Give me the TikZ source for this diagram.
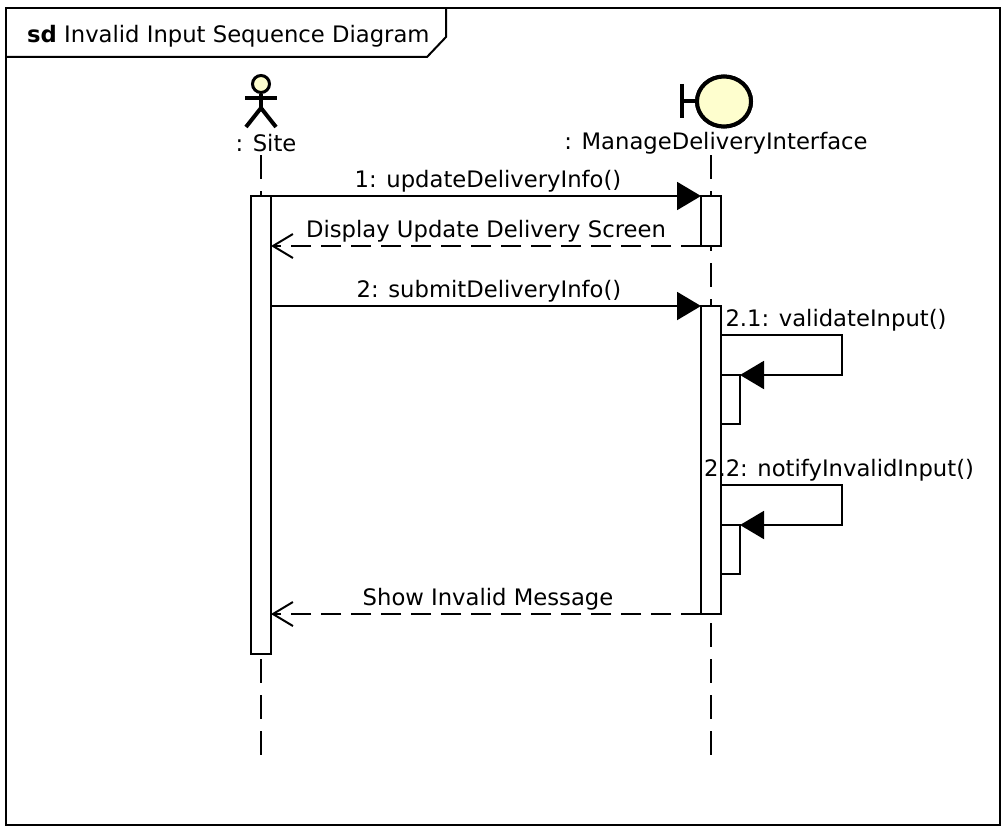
\documentclass[tikz,border=0pt]{standalone}
\usepackage{fontspec}
\setmainfont{DejaVu Sans}
\usetikzlibrary{arrows.meta,positioning,shapes.geometric}
\definecolor{actorfill}{RGB}{254,254,206}
\tikzset{
  lifeline/.style={line width=2pt,dash pattern=on 24pt off 12pt},
  activation/.style={rectangle,draw=black,fill=white,line width=2.4pt,minimum width=20pt,inner sep=0pt,outer sep=0pt},
  nested/.style={rectangle,draw=black,fill=white,line width=2.4pt,minimum width=19pt,inner sep=0pt,outer sep=0pt},
  call/.style={line width=2pt,-{Triangle[length=24pt,width=28pt]}},
  reply/.style={line width=2pt,dash pattern=on 20pt off 10pt,-{Straight Barb[length=20pt,width=24pt]}},
  msg/.style={inner sep=0pt,font=\fontsize{22.7}{26}\selectfont},
  thick stroke/.style={line width=4pt},
  headshape/.style={circle,draw=black,fill=actorfill,line width=3pt,minimum size=17pt,inner sep=0pt},
  ballshape/.style={ellipse,draw=black,fill=actorfill,line width=4pt,minimum width=54pt,minimum height=50pt,inner sep=0pt}
}
\begin{document}
\begin{tikzpicture}[x=1pt,y=-1pt]
    \useasboundingbox (0,0) rectangle (1008,832);
    % frame
    \draw[line width=2.6pt] (6,8) rectangle (1000,825);
    \coordinate (tabl) at (6,57);
    \coordinate (tabr) at (446,8);
    \draw[line width=2pt] (tabl) -- (427,57) -- (446,37) -- (tabr);
    \node (title) [msg,anchor=base west] at (27,43) {\textbf{sd} Invalid Input Sequence Diagram};

    % lifelines
    \coordinate (sitetop) at (261,155);
    \coordinate (sitebot) at (261,755);
    \coordinate (mditop) at (711,155);
    \coordinate (mdibot) at (711,755);
    \draw[lifeline] (sitetop) -- (sitebot);
    \draw[lifeline] (mditop) -- (mdibot);

    % actor
    \node (head) [headshape] at (261,84) {};
    \coordinate (armsl) at (245,98);
    \coordinate (armsr) at (277,98);
    \coordinate (hip) at (261,108);
    \coordinate (legl) at (246,127);
    \coordinate (legr) at (276,127);
    \draw[thick stroke] (armsl) -- (armsr);
    \draw[thick stroke] (head) -- (hip);
    \draw[thick stroke] (legl) -- (hip) -- (legr);
    \node (site) [msg] at (266,143) {: Site};

    % boundary
    \node (ball) [ballshape] at (724,101.5) {};
    \coordinate (barjoin) at (681.5,101.5);
    \coordinate (bartop) at (681.5,84);
    \coordinate (barbot) at (681.5,118);
    \draw[thick stroke] (ball) -- (barjoin);
    \draw[thick stroke] (bartop) -- (barbot);
    \node (ball) [ballshape] at (724,101.5) {};
    \node (mdi) [msg] at (716,143) {: ManageDeliveryInterface};

    % activations
    \node (siteact) [activation,anchor=north,minimum height=458pt] at (261,196) {};
    \node (mdiacta) [activation,anchor=north,minimum height=50pt] at (711,196) {};
    \node (mdiactb) [activation,anchor=north,minimum height=308pt] at (711,306) {};
    \node (nesta) [nested,anchor=north west,minimum height=49pt] at (721,375) {};
    \node (nestb) [nested,anchor=north west,minimum height=49pt] at (721,525) {};

    % messages
    \draw[call] (siteact.north east) -- (mdiacta.north west);
    \node (ma) [msg] at (488,181) {1: updateDeliveryInfo()};
    \draw[reply] (mdiacta.south west) -- (siteact.east |- mdiacta.south west);
    \node (mb) [msg] at (486,231) {Display Update Delivery Screen};
    \draw[call] (siteact.east |- mdiactb.north west) -- (mdiactb.north west);
    \node (mc) [msg] at (489,291) {2: submitDeliveryInfo()};
    \foreach \n/\y in {nesta/335,nestb/485}
    \draw[call] (721,\y) -- (842,\y) -- (842,\y+40) -- (\n.north east);
    \node (md) [msg] at (836,320) {2.1: validateInput()};
    \node (me) [msg] at (839,470) {2.2: notifyInvalidInput()};
    \draw[reply] (mdiactb.south west) -- (siteact.east |- mdiactb.south west);
    \node (mf) [msg] at (488,599) {Show Invalid Message};
\end{tikzpicture}
\end{document}
